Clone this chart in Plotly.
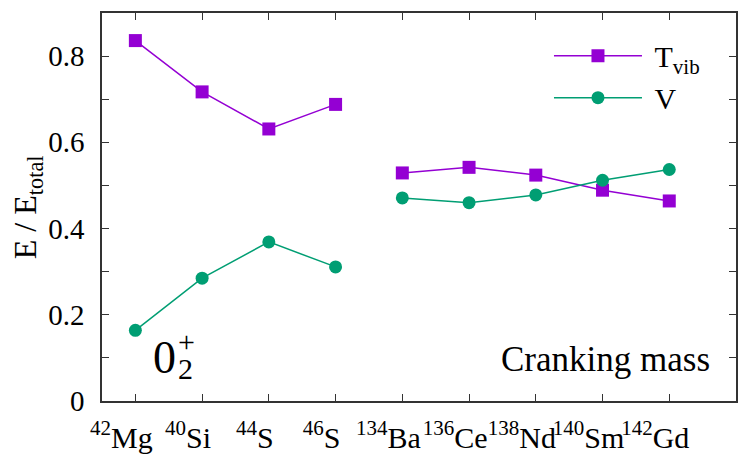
import plotly.graph_objects as go

# nuclei on the x axis (isotope mass number, element)
mass_nums = ['42', '40', '44', '46', '134', '136', '138', '140', '142']
elements = ['Mg', 'Si', 'S', 'S', 'Ba', 'Ce', 'Nd', 'Sm', 'Gd']

# energy fractions E / E_total, 0_2^+ state, cranking mass
t_vib = [0.836, 0.717, 0.631, 0.688, 0.529, 0.542, 0.524, 0.489, 0.464]
v_pot = [0.164, 0.285, 0.369, 0.311, 0.471, 0.460, 0.478, 0.512, 0.537]

# light nuclei and heavy nuclei are drawn as separate line pieces
groups = [(0, 4), (4, 9)]

labels = ['<sup>%s</sup>%s' % (a, e) for a, e in zip(mass_nums, elements)]
idx = list(range(len(labels)))

purple = '#9400d3'
green = '#009e73'
serif = 'Liberation Serif, DejaVu Serif, Noto Serif, Times New Roman, serif'

fig = go.Figure()
for k, (lo, hi) in enumerate(groups):
    fig.add_trace(go.Scatter(
        x=idx[lo:hi], y=t_vib[lo:hi], mode='lines+markers',
        name='\u00a0T<sub>vib</sub>', legendgroup='t', showlegend=(k == 0),
        line=dict(color=purple, width=1.5),
        marker=dict(symbol='square', size=13, color=purple)))
for k, (lo, hi) in enumerate(groups):
    fig.add_trace(go.Scatter(
        x=idx[lo:hi], y=v_pot[lo:hi], mode='lines+markers',
        name='\u00a0V', legendgroup='v', showlegend=(k == 0),
        line=dict(color=green, width=1.5),
        marker=dict(symbol='circle', size=13, color=green)))

fig.update_xaxes(
    range=[-0.5, 9], tickvals=idx, ticktext=labels, tickangle=0, automargin=False,
    ticks='inside', ticklen=7, tickcolor='#333', tickwidth=1,
    showline=True, linecolor='#333', linewidth=1.5, mirror='ticks',
    showgrid=False, zeroline=False,
    tickfont=dict(family=serif, size=30, color='black'),
    ticklabelstandoff=9, ticklabelshift=-14)
fig.update_yaxes(
    range=[0, 0.9], tickvals=[0, 0.2, 0.4, 0.6, 0.8],
    ticktext=['0', '0.2', '0.4', '0.6', '0.8'], automargin=False,
    ticks='inside', ticklen=7, tickcolor='#333', tickwidth=1,
    minor=dict(dtick=0.1, ticks='inside', ticklen=7, tickcolor='#333', showgrid=False),
    showline=True, linecolor='#333', linewidth=1.5, mirror='ticks',
    showgrid=False, zeroline=False,
    tickfont=dict(family=serif, size=29, color='black'),
    ticklabelstandoff=10)

# y axis title placed as a rotated annotation so it can sit closer to the edge
fig.add_annotation(text='E / E<sub>total</sub>', xref='paper', yref='paper', x=-0.118, y=0.5,
                   xanchor='center', yanchor='middle', textangle=-90, showarrow=False,
                   font=dict(family=serif, size=32, color='black'))
fig.add_annotation(text='Cranking mass', xref='paper', yref='paper', x=0.962, y=0.106,
                   xanchor='right', yanchor='middle', showarrow=False,
                   font=dict(family=serif, size=35, color='black'))
fig.add_annotation(text='0', xref='paper', yref='paper', x=0.099, y=0.113,
                   xanchor='center', yanchor='middle', showarrow=False,
                   font=dict(family=serif, size=46, color='black'))
fig.add_annotation(text='+', xref='paper', yref='paper', x=0.134, y=0.153,
                   xanchor='center', yanchor='middle', showarrow=False,
                   font=dict(family=serif, size=30, color='black'))
fig.add_annotation(text='2', xref='paper', yref='paper', x=0.132, y=0.085,
                   xanchor='center', yanchor='middle', showarrow=False,
                   font=dict(family=serif, size=30, color='black'))

# page body has an 8px margin, so shift the figure margins to compensate
fig.update_layout(
    width=747, height=476,
    margin=dict(l=94, r=19, t=5, b=83),
    plot_bgcolor='white', paper_bgcolor='white',
    legend=dict(x=0.705, y=0.957, xanchor='left', yanchor='top',
                bgcolor='rgba(0,0,0,0)', itemwidth=88, tracegroupgap=0,
                font=dict(family=serif, size=30, color='black')),
    font=dict(family=serif, color='black'))

fig.write_html('out.html')
